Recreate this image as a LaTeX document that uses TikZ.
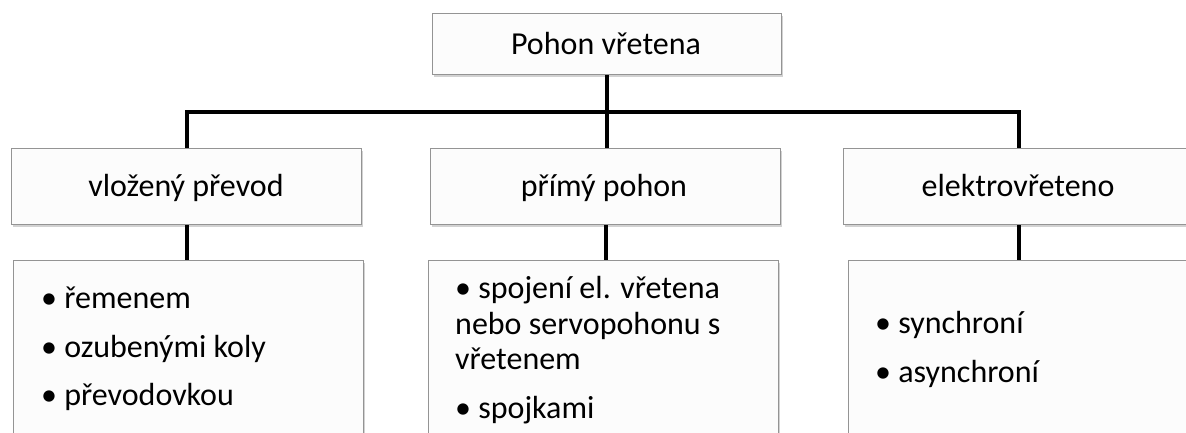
\documentclass[tikz,border=0pt]{standalone}
\usepackage{fontspec}
\setmainfont{Carlito}
\usetikzlibrary{shadows}

\begin{document}
\begin{tikzpicture}[x=1pt,y=-1pt,
	box/.style={draw=black!42, line width=1.2pt, fill=black!1, rectangle, inner sep=0pt,
		minimum width=350pt, drop shadow={shadow xshift=1.5pt, shadow yshift=-2.5pt, opacity=0.35}},
	conn/.style={line width=4.2pt, black},
	item/.style={anchor=base west, inner sep=0pt, font=\fontsize{32}{40}\selectfont}]

	%picture size, clip the boxes that run off the page
	\useasboundingbox (0,0) rectangle (1186,432);
	\clip (0,0) rectangle (1186,432);
	\fill[white] (0,0) rectangle (1186,432);

	%declare constants
	\def\midTop{148}
	\def\lowTop{260}

	%top box
	\node[box, anchor=north west, minimum width=349pt, minimum height=61pt] (topBox) at (432,13) {};
	\node[item, anchor=base] (topText) at (606,54) {Pohon vřetena};

	%middle boxes
	\node[box, anchor=north west, minimum height=76pt] (midLeft) at (11,\midTop) {};
	\node[box, anchor=north west, minimum height=76pt] (midMid) at (430,\midTop) {};
	\node[box, anchor=north west, minimum height=76pt] (midRight) at (843,\midTop) {};
	\node[item, anchor=base] (midLeftText) at (186,196) {vložený převod};
	\node[item, anchor=base] (midMidText) at (604,196) {přímý pohon};
	\node[item, anchor=base] (midRightText) at (1018,196) {elektrovřeteno};

	%lower boxes
	\node[box, anchor=north west, minimum height=200pt] (lowLeft) at (13,\lowTop) {};
	\node[box, anchor=north west, minimum height=200pt] (lowMid) at (428,\lowTop) {};
	\node[box, anchor=north west, minimum height=200pt] (lowRight) at (848,\lowTop) {};

	%connectors
	\coordinate (bus) at (606,112);
	\draw[conn] (topBox.south) -- (midMid.north -| topBox.south);
	\draw[conn] (bus) -| (midLeft.north);
	\draw[conn] (bus) -| (midRight.north);
	\draw[conn] (midLeft.south) -- (midLeft.south |- lowLeft.north);
	\draw[conn] (midMid.south) -- (midMid.south |- lowMid.north);
	\draw[conn] (midRight.south) -- (midRight.south |- lowRight.north);

	%lower box items
	\node[item] (remen) at (41,308) {• řemenem};
	\node[item] (ozub) at (41,357) {• ozubenými koly};
	\node[item] (prevod) at (41,405) {• převodovkou};

	\node[item] (spojA) at (455,298) {• spojení el. vřetena};
	\node[item] (spojB) at (455,334) {nebo servopohonu s};
	\node[item] (spojC) at (455,369) {vřetenem};
	\node[item] (spojk) at (455,418) {• spojkami};

	\node[item] (sync) at (875,333) {• synchroní};
	\node[item] (async) at (875,382) {• asynchroní};

\end{tikzpicture}
\end{document}
